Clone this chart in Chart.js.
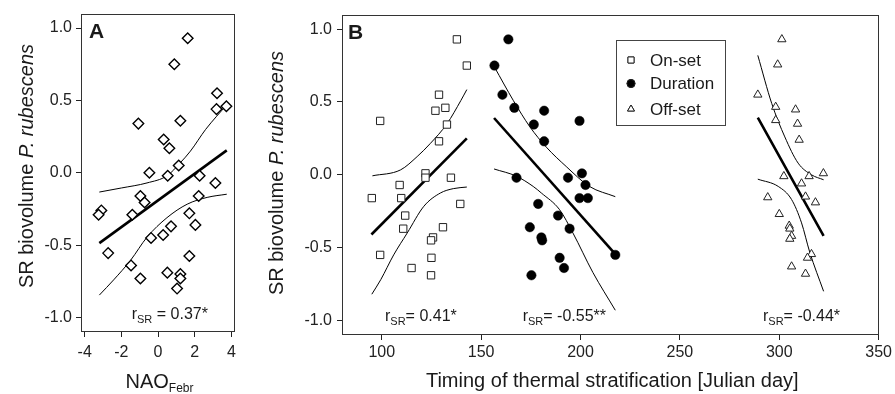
<!DOCTYPE html>
<html>
<head>
<meta charset="utf-8">
<script src="https://cdn.jsdelivr.net/npm/chart.js@4.4.1/dist/chart.umd.min.js"></script>
<style>
  html, body { margin: 0; padding: 0; background: #fff; }
  #wrap { position: relative; width: 895px; height: 394px; overflow: hidden; }
  #chartA { position: absolute; left: 0; top: 0; width: 250px; height: 394px; }
  #chartB { position: absolute; left: 250px; top: 0; width: 645px; height: 394px; }
</style>
</head>
<body>
<div id="wrap">
  <canvas id="chartA" width="250" height="394"></canvas>
  <canvas id="chartB" width="645" height="394"></canvas>
</div>
<script>
// ---- panel A: SR biovolume vs NAO in February ----
const naoX = [1.62, 0.89, 3.22, 3.19, 3.73, -1.07, 1.22, 0.31, 0.62, -0.47, 1.13, 0.53, 2.27, 3.13, -0.96, 2.22,
  -0.73, -3.09, -3.24, -1.40, 1.71, 2.04, 0.71, 0.28, -0.38, -2.72, 1.71, -1.47, 0.51, -0.96, 1.22, 1.22, 1.04];
const naoSR = [0.93, 0.75, 0.55, 0.44, 0.46, 0.34, 0.36, 0.23, 0.17, 0.0, 0.05, -0.02, -0.02, -0.07, -0.16, -0.16,
  -0.205, -0.26, -0.29, -0.29, -0.28, -0.36, -0.37, -0.43, -0.45, -0.555, -0.575, -0.64, -0.69, -0.73, -0.70, -0.73, -0.80];
const naoFit = [[-3.2, -0.486], [3.75, 0.155]];
const naoUpper = [[-3.2, -0.133], [-2, -0.105], [-0.6, -0.07], [0.5, -0.02], [1.22, 0.07], [1.77, 0.15], [2.6, 0.3], [3.75, 0.47]];
const naoLower = [[-3.2, -0.845], [-2.42, -0.74], [-1.5, -0.605], [-0.6, -0.445], [0.49, -0.31], [1.59, -0.217], [2.68, -0.17], [3.75, -0.148]];

// ---- panel B: SR biovolume vs timing of stratification ----
const onsetDay = [137.8, 142.8, 128.8, 127, 132, 99.2, 132.8, 128.8, 122, 122, 134.8, 109, 95, 109.8, 139.5, 111.8,
  110.8, 130.8, 125.8, 124.8, 99.2, 125, 115, 124.8];
const onsetSR = [0.93, 0.75, 0.55, 0.44, 0.46, 0.37, 0.345, 0.23, 0.01, -0.02, -0.02, -0.07, -0.16, -0.16, -0.20, -0.28,
  -0.37, -0.36, -0.43, -0.45, -0.55, -0.57, -0.64, -0.69];
const durDay = [163.7, 156.7, 160.7, 166.7, 181.7, 176.5, 199.5, 181.7, 167.8, 193.7, 200.7, 202.5, 199.5, 203.7, 178.7, 188.7,
  174.5, 194.5, 180.3, 180.7, 217.5, 189.5, 191.7, 175.3];
const durSR = [0.93, 0.75, 0.55, 0.46, 0.44, 0.345, 0.37, 0.23, -0.02, -0.02, 0.01, -0.07, -0.16, -0.16, -0.20, -0.28,
  -0.36, -0.37, -0.43, -0.45, -0.55, -0.57, -0.64, -0.69];
const offDay = [301.3, 299.2, 289.2, 298.2, 308.2, 298.2, 309.2, 310, 322.2, 302.3, 315, 311.2, 294.2, 313.2, 318.2, 300,
  305, 305.3, 306.2, 305.3, 316.2, 314.2, 306.2, 313.2];
const offSR = [0.93, 0.757, 0.55, 0.466, 0.448, 0.375, 0.35, 0.24, 0.01, -0.01, -0.01, -0.06, -0.155, -0.15, -0.19, -0.27,
  -0.35, -0.37, -0.42, -0.44, -0.545, -0.57, -0.63, -0.68];

const onsetFit = [[94.8, -0.41], [142.8, 0.25]];
const onsetUpper = [[95.3, -0.007], [109.5, 0.034], [117.8, 0.125], [124.5, 0.216], [132.8, 0.35], [139.8, 0.51], [142.8, 0.585]];
const onsetLower = [[95, -0.82], [99.5, -0.72], [106, -0.55], [112.8, -0.40], [121.2, -0.216], [129.5, -0.125], [136, -0.095], [142.8, -0.084]];
const durFit = [[156.5, 0.39], [217.5, -0.545]];
const durUpper = [[156.7, 0.74], [166.2, 0.51], [174.5, 0.33], [182.8, 0.19], [192.8, 0.057], [204.5, -0.08], [217.5, -0.15]];
const durLower = [[156.5, 0.04], [167.8, -0.01], [176.2, -0.08], [180.3, -0.125], [189.5, -0.24], [196.2, -0.40], [206.2, -0.67], [217.5, -0.93]];
const offFit = [[289.2, 0.393], [322.3, -0.42]];
const offUpper = [[289.2, 0.82], [296.2, 0.49], [302.8, 0.26], [309.5, 0.08], [316.2, 0.0], [322.3, -0.034]];
const offLower = [[289.2, -0.03], [299.5, -0.08], [306.2, -0.17], [311.2, -0.33], [315.3, -0.53], [322.3, -0.80]];

const yTicks = [-1.0, -0.5, 0.0, 0.5, 1.0];
const naoTicks = [-4, -2, 0, 2, 4];
const dayTicks = [100, 150, 200, 250, 300, 350];
const seriesNames = ["On-set", "Duration", "Off-set"];

const FONT = 'Arial, "Liberation Sans", Helvetica, sans-serif';
const INK = "#1a1a1a";

const toPts = (xs, ys) => xs.map((x, i) => ({ x: x, y: ys[i] }));
const pairPts = arr => arr.map(p => ({ x: p[0], y: p[1] }));

function curve(points, width) {
  return {
    data: pairPts(points),
    showLine: true,
    pointRadius: 0,
    borderColor: "#000",
    borderWidth: width,
    cubicInterpolationMode: "monotone",
    fill: false
  };
}

function axis(ticks, min, max, o) {
  return {
    type: "linear",
    min: min,
    max: max,
    afterBuildTicks: s => { s.ticks = ticks.map(v => ({ value: v })); },
    afterFit: s => {
      if (o.width) s.width = o.width;
      if (o.height) s.height = o.height;
    },
    grid: { display: true, drawOnChartArea: false, drawTicks: true, tickLength: 5, color: "#222", lineWidth: 1 },
    border: { display: false },
    ticks: { color: "#222", font: { size: 16, family: FONT }, padding: o.pad, maxRotation: 0, autoSkip: false, callback: o.fmt }
  };
}

// text with italic / bold / subscript runs
function drawRich(ctx, it) {
  const fontFor = p => {
    const size = p[1] === "s" ? it.sub : it.size;
    return (p[1] === "i" ? "italic " : "") + (p[1] === "b" ? "bold " : "") + size + "px " + FONT;
  };
  let total = 0;
  it.parts.forEach(p => { ctx.font = fontFor(p); total += ctx.measureText(p[0]).width; });
  ctx.save();
  ctx.translate(it.x, it.y);
  if (it.rot) ctx.rotate(it.rot);
  let x = it.align === "center" ? -total / 2 : 0;
  ctx.textAlign = "left";
  ctx.textBaseline = "alphabetic";
  ctx.fillStyle = INK;
  it.parts.forEach(p => {
    ctx.font = fontFor(p);
    ctx.fillText(p[0], x, p[1] === "s" ? 4 : 0);
    x += ctx.measureText(p[0]).width;
  });
  ctx.restore();
}

const panelPlugin = {
  id: "panel",
  afterDraw(chart, args, opts) {
    const ctx = chart.ctx;
    const a = chart.chartArea;
    ctx.save();
    ctx.strokeStyle = "#333";
    ctx.lineWidth = 1;
    ctx.strokeRect(Math.round(a.left) + 0.5, Math.round(a.top) + 0.5,
      Math.round(a.right - a.left) - 1, Math.round(a.bottom - a.top) - 1);
    (opts.items || []).forEach(it => drawRich(ctx, it));
    const lg = opts.legend;
    if (lg) {
      ctx.strokeStyle = "#444";
      ctx.strokeRect(lg.x + 0.5, lg.y + 0.5, lg.w, lg.h);
      ctx.font = lg.size + "px " + FONT;
      ctx.textBaseline = "middle";
      ctx.textAlign = "left";
      lg.rows.forEach((ry, i) => {
        const ds = chart.data.datasets[i];
        Chart.helpers.drawPoint(ctx, {
          pointStyle: ds.pointStyle, radius: lg.radius[i], rotation: 0, borderWidth: 1
        }, lg.markX, ry);
        ctx.fillStyle = ds.pointBackgroundColor;
        ctx.strokeStyle = "#222";
        ctx.lineWidth = 1;
        ctx.fill();
        ctx.stroke();
        ctx.fillStyle = INK;
        ctx.fillText(ds.label, lg.textX, ry + 1);
      });
    }
    ctx.restore();
  }
};

const commonPlugins = { legend: { display: false }, tooltip: { enabled: false } };

// ---- chart A ----
new Chart(document.getElementById("chartA").getContext("2d"), {
  type: "scatter",
  data: {
    datasets: [
      {
        label: "NAO",
        data: toPts(naoX, naoSR),
        pointStyle: "rectRot",
        pointRadius: 5.3,
        pointBorderWidth: 1.4,
        pointBorderColor: "#000",
        pointBackgroundColor: "#fff"
      },
      curve(naoFit, 2.6),
      curve(naoUpper, 1),
      curve(naoLower, 1)
    ]
  },
  options: {
    responsive: false,
    animation: false,
    events: [],
    layout: { padding: { left: 0, top: 11, right: 15, bottom: 0 } },
    scales: {
      x: axis(naoTicks, -4.2, 4.2, { height: 62, pad: 6, fmt: v => String(v) }),
      y: axis(yTicks, -1.1, 1.1, { width: 81, pad: 4, fmt: v => v.toFixed(1) })
    },
    plugins: Object.assign({}, commonPlugins, {
      panel: {
        items: [
          { parts: [["A", "b"]], x: 89, y: 38, size: 21 },
          { parts: [["SR biovolume ", ""], ["P. rubescens", "i"]], x: 32.5, y: 166, rot: -Math.PI / 2, align: "center", size: 20 },
          { parts: [["NAO", ""], ["Febr", "s"]], x: 159.5, y: 388, align: "center", size: 20, sub: 12 },
          { parts: [["r", ""], ["SR", "s"], [" = 0.37*", ""]], x: 131.7, y: 319.3, size: 16, sub: 11 }
        ]
      }
    })
  },
  plugins: [panelPlugin]
});

// ---- chart B ----
new Chart(document.getElementById("chartB").getContext("2d"), {
  type: "scatter",
  data: {
    datasets: [
      {
        label: seriesNames[0],
        data: toPts(onsetDay, onsetSR),
        pointStyle: "rect",
        pointRadius: 5.2,
        pointBorderWidth: 1,
        pointBorderColor: "#222",
        pointBackgroundColor: "#fff"
      },
      {
        label: seriesNames[1],
        data: toPts(durDay, durSR),
        pointStyle: "circle",
        pointRadius: 4.7,
        pointBorderWidth: 0.5,
        pointBorderColor: "#000",
        pointBackgroundColor: "#000"
      },
      {
        label: seriesNames[2],
        data: toPts(offDay, offSR),
        pointStyle: "triangle",
        pointRadius: 4.8,
        pointBorderWidth: 1,
        pointBorderColor: "#222",
        pointBackgroundColor: "#fff"
      },
      curve(onsetFit, 2.6), curve(onsetUpper, 1), curve(onsetLower, 1),
      curve(durFit, 2.6), curve(durUpper, 1), curve(durLower, 1),
      curve(offFit, 2.6), curve(offUpper, 1), curve(offLower, 1)
    ]
  },
  options: {
    responsive: false,
    animation: false,
    events: [],
    layout: { padding: { left: 0, top: 13, right: 16, bottom: 0 } },
    scales: {
      x: axis(dayTicks, 80, 350, { height: 59, pad: 3, fmt: v => String(v) }),
      y: axis(yTicks, -1.1, 1.1, { width: 92, pad: 5, fmt: v => v.toFixed(1) })
    },
    plugins: Object.assign({}, commonPlugins, {
      panel: {
        items: [
          { parts: [["B", "b"]], x: 98, y: 39.3, size: 21 },
          { parts: [["SR biovolume ", ""], ["P. rubescens", "i"]], x: 33.3, y: 173, rot: -Math.PI / 2, align: "center", size: 20 },
          { parts: [["Timing of thermal stratification [Julian day]", ""]], x: 362.3, y: 387, align: "center", size: 20 },
          { parts: [["r", ""], ["SR", "s"], ["= 0.41*", ""]], x: 135, y: 320.5, size: 16, sub: 11 },
          { parts: [["r", ""], ["SR", "s"], ["= -0.55**", ""]], x: 272.7, y: 320.5, size: 16, sub: 11 },
          { parts: [["r", ""], ["SR", "s"], ["= -0.44*", ""]], x: 513, y: 320.5, size: 16, sub: 11 }
        ],
        legend: { x: 366, y: 40, w: 109, h: 85, rows: [60, 83.5, 109], radius: [4.3, 4, 4], markX: 381, textX: 400, size: 17 }
      }
    })
  },
  plugins: [panelPlugin]
});
</script>
</body>
</html>
